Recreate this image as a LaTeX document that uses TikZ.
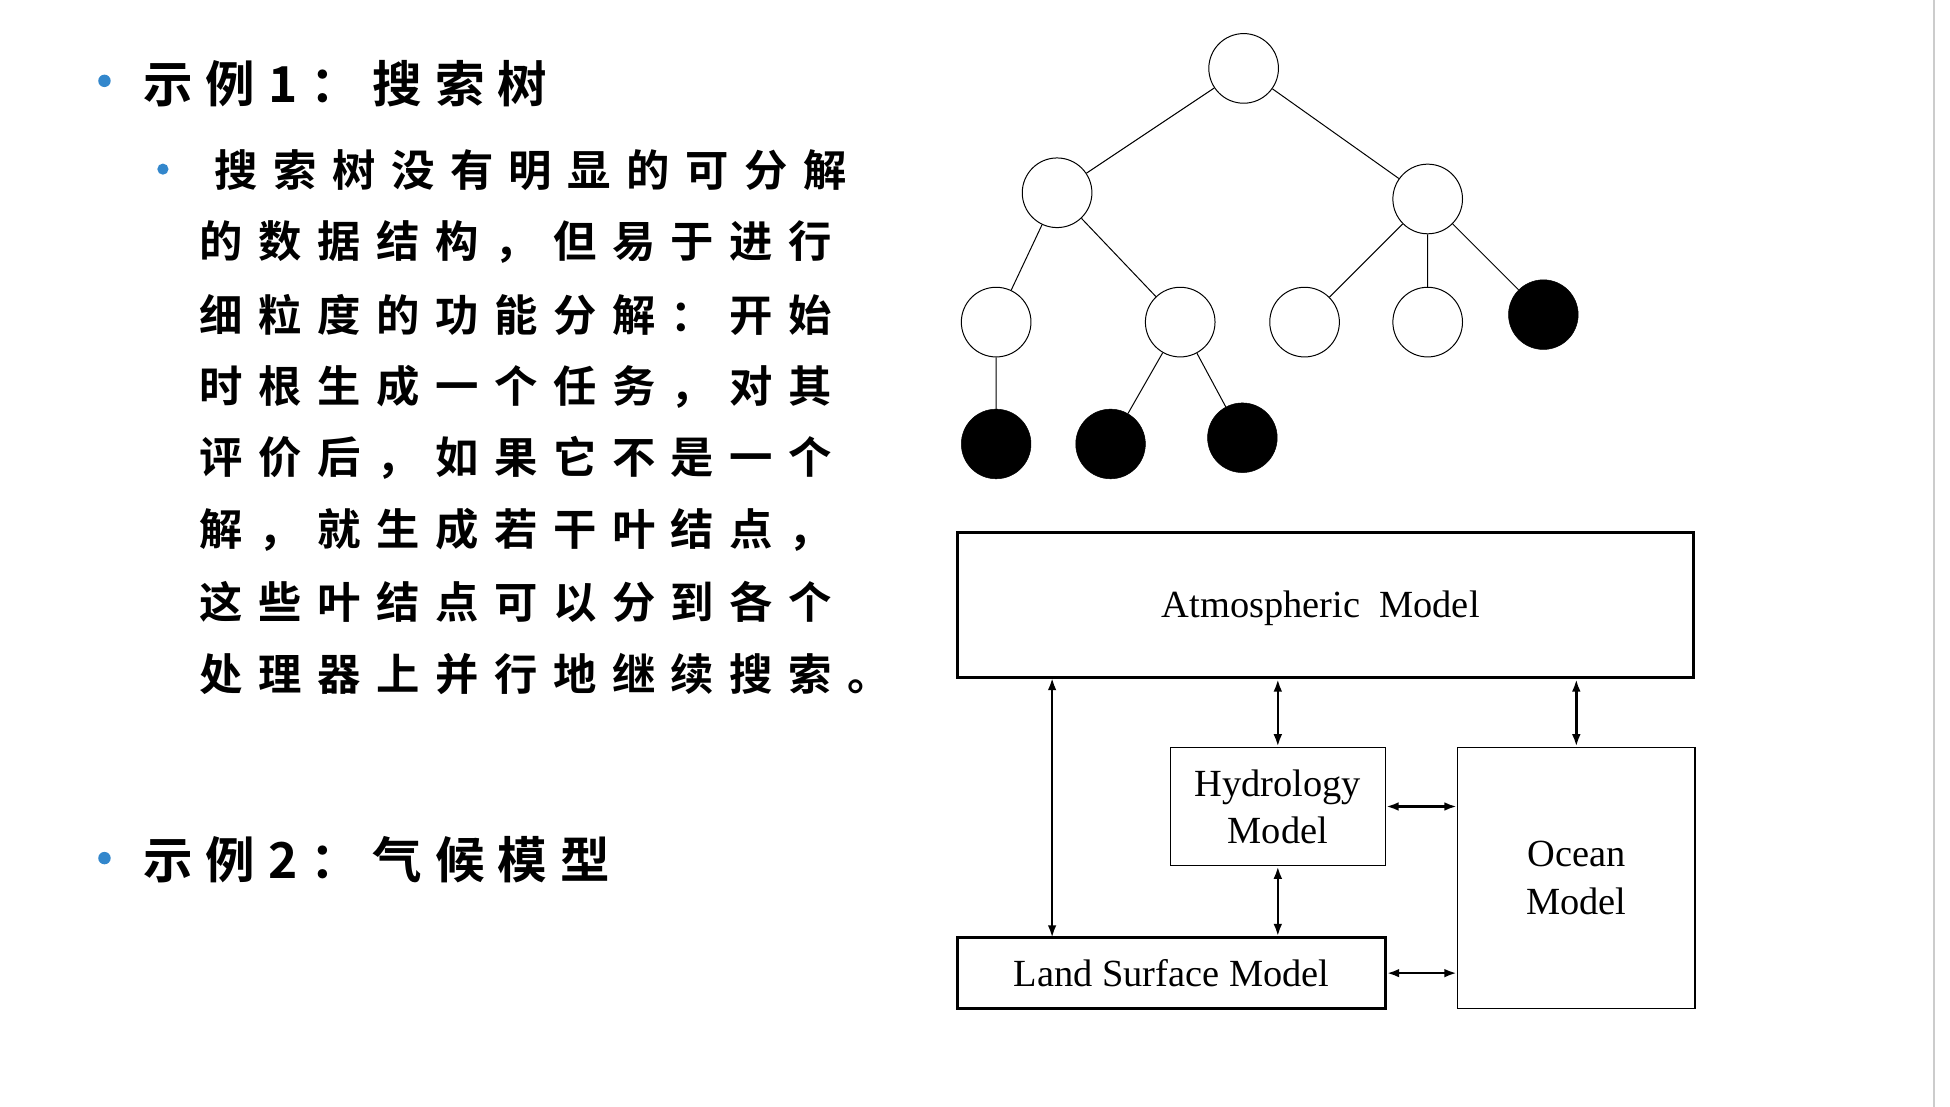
\documentclass[tikz,border=0pt]{standalone}
\usepackage{fontspec}
\setmainfont{Liberation Serif}
\newfontfamily\cjk[LetterSpace=36]{Noto Sans CJK SC Bold}
\newfontfamily\cjkt[LetterSpace=26]{Noto Sans CJK SC Bold}
\usetikzlibrary{arrows.meta}
\begin{document}
\begin{tikzpicture}[x=1bp,y=-1bp,
  wn/.style={circle,draw,minimum size=56bp,inner sep=0pt,line width=0.8bp},
  bn/.style={circle,fill=black,draw,minimum size=56bp,inner sep=0pt},
  box/.style={draw,line width=2.2bp,inner sep=0pt,font=\fontsize{31}{38}\selectfont,align=center},
  dar/.style={{Latex[length=10bp,width=7bp]}-{Latex[length=10bp,width=7bp]},line width=2bp},
  ln/.style={anchor=west,font=\cjk\fontsize{35}{40}\selectfont,inner sep=0pt},
  hd/.style={anchor=west,font=\cjkt\fontsize{40}{44}\selectfont,inner sep=0pt},
  dot/.style={circle,fill=blue!45!cyan!60!gray,inner sep=0pt}]
\useasboundingbox (0,0) rectangle (1568,890);
\draw[gray!40,line width=1.5bp] (1555,0) -- (1555,890);
% text
\node[dot,minimum size=10bp] (b1) at (84,65) {};
\node[hd] (t1) at (115,67) {示例1：搜索树};
\node[dot,minimum size=9bp] (b2) at (131,136) {};
\node[ln] (l1) at (172,137) {搜索树没有明显的可分解};
\node[ln] (l2) at (160,195) {的数据结构，但易于进行};
\node[ln] (l3) at (160,253) {细粒度的功能分解：开始};
\node[ln] (l4) at (160,311) {时根生成一个任务，对其};
\node[ln] (l5) at (160,368) {评价后，如果它不是一个};
\node[ln] (l6) at (160,426) {解，就生成若干叶结点，};
\node[ln] (l7) at (160,484) {这些叶结点可以分到各个};
\node[ln] (l8) at (160,542) {处理器上并行地继续搜索。};
\node[dot,minimum size=10bp] (b3) at (84,690) {};
\node[hd] (t2) at (115,691) {示例2：气候模型};
% tree
\node[wn] (r) at (1000,55) {};
\node[wn] (a) at (850,155) {};
\node[wn] (b) at (1148,160) {};
\node[wn] (a1) at (801,259) {};
\node[wn] (a2) at (949,259) {};
\node[wn] (b1n) at (1049,259) {};
\node[wn] (b2n) at (1148,259) {};
\node[bn] (b3n) at (1241,253) {};
\node[bn] (c1) at (801,357) {};
\node[bn] (c2) at (893,357) {};
\node[bn] (c3) at (999,352) {};
\draw[line width=0.8bp] (r)--(a) (r)--(b) (a)--(a1) (a)--(a2) (b)--(b1n) (b)--(b2n) (b)--(b3n)
  (a1)--(c1) (a2)--(c2) (a2)--(c3);
% climate model
\node[box,minimum width=592bp,minimum height=117bp] (atm) at (1066,486.5) {};
\node (atmt) at (1062,489) [font=\fontsize{31}{38}\selectfont] {Atmospheric\ \ Model};
\node[box,line width=1.2bp,minimum width=173bp,minimum height=95bp] (hyd) at (1027.5,648.5) {Hydrology\\Model};
\node[box,line width=1.2bp,minimum width=191bp,minimum height=210bp] (oce) at (1267.5,706) {Ocean\\Model};
\node[box,minimum width=344bp,minimum height=57bp] (land) at (942,782.5) {Land Surface Model};
\draw[dar] (846,545) -- (846,754);
\draw[dar] (atm.south -| hyd) -- (hyd.north);
\draw[dar] (hyd.south) -- (land.north -| hyd);
\draw[dar] (atm.south -| oce) -- (oce.north);
\draw[dar] (hyd.east) -- (hyd.east -| oce.west);
\draw[dar] (land.east) -- (land.east -| oce.west);
\end{tikzpicture}
\end{document}
